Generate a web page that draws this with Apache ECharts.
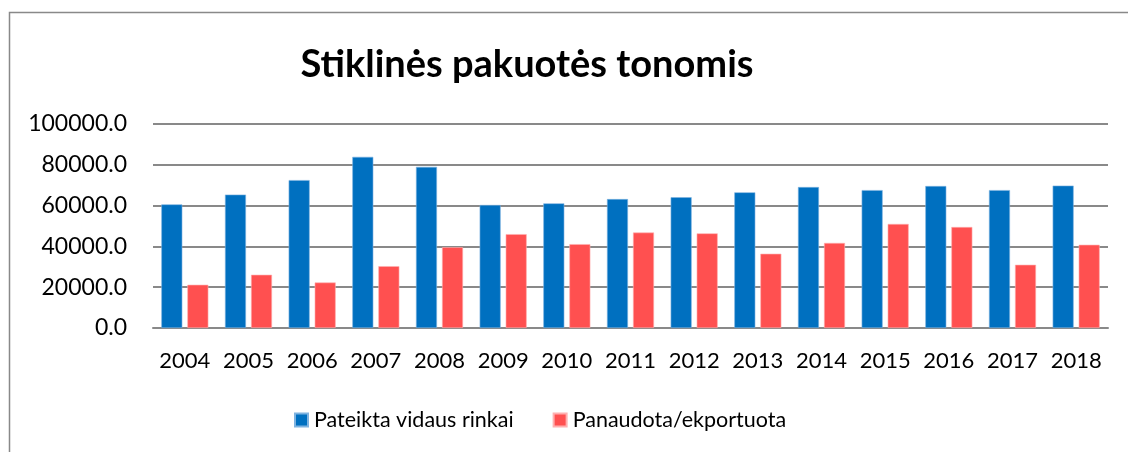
<!DOCTYPE html>
<html>
<head>
<meta charset="utf-8">
<script src="https://cdn.jsdelivr.net/npm/echarts@6/dist/echarts.min.js"></script>
<style>
html,body{margin:0;padding:0;background:#fff;}
#c{width:1128px;height:452px;}
</style>
</head>
<body>
<div id="c"></div>
<script>
const categories = ['2004','2005','2006','2007','2008','2009','2010','2011','2012','2013','2014','2015','2016','2017','2018'];
const seriesNames = ['Pateikta vidaus rinkai','Panaudota/ekportuota'];
const pateikta = [60600, 65400, 72500, 83900, 79000, 60300, 61100, 63200, 64100, 66500, 69100, 67600, 69600, 67600, 69800];
const panaudota = [21200, 26100, 22300, 30300, 39600, 46000, 41100, 46800, 46400, 36400, 41700, 51000, 49500, 31000, 40800];
const yTicks = {min: 0, max: 100000, interval: 20000};

const chart = echarts.init(document.getElementById('c'), null, {renderer: 'canvas'});
const FONT = 'Lato';
chart.setOption({
  animation: false,
  backgroundColor: '#fff',
  graphic: [{
    type: 'rect',
    shape: {x: 9.5, y: 12.5, width: 1200, height: 500},
    style: {fill: 'none', stroke: '#898989', lineWidth: 1.5},
    silent: true
  }],
  title: {
    text: 'Stiklinės pakuotės tonomis',
    left: 522,
    textAlign: 'center',
    top: 41,
    textStyle: {fontFamily: FONT, fontWeight: 'bold', fontSize: 38, color: '#000'}
  },
  legend: {
    data: seriesNames,
    left: 289,
    top: 404,
    itemWidth: 13,
    itemHeight: 13,
    itemGap: 39,
    icon: 'rect',
    textStyle: {fontFamily: FONT, fontSize: 21.5, color: '#000', padding: [0,0,0,1]}
  },
  grid: {left: 153, right: 20, top: 124, bottom: 124, containLabel: false},
  xAxis: {
    type: 'category',
    data: categories,
    axisTick: {show: false},
    axisLine: {lineStyle: {color: '#898989', width: 2}},
    axisLabel: {fontFamily: FONT, fontSize: 22, color: '#000', margin: 22, interval: 0, hideOverlap: false}
  },
  yAxis: {
    type: 'value',
    min: yTicks.min, max: yTicks.max, interval: yTicks.interval,
    axisLine: {show: false},
    axisTick: {show: false},
    splitLine: {lineStyle: {color: '#898989', width: 2}},
    axisLabel: {fontFamily: FONT, fontSize: 23, color: '#000', margin: 26,
      formatter: v => v.toFixed(1)}
  },
  series: [
    {name: seriesNames[0], type: 'bar', data: pateikta, barWidth: 21, barGap: '24%',
     itemStyle: {color: '#0070C0', borderColor: '#7fb3e0', borderWidth: 0.6}},
    {name: seriesNames[1], type: 'bar', data: panaudota, barWidth: 21, barGap: '24%',
     itemStyle: {color: '#FF5050', borderColor: '#ffb0b0', borderWidth: 0.6}}
  ]
});
</script>
</body>
</html>
